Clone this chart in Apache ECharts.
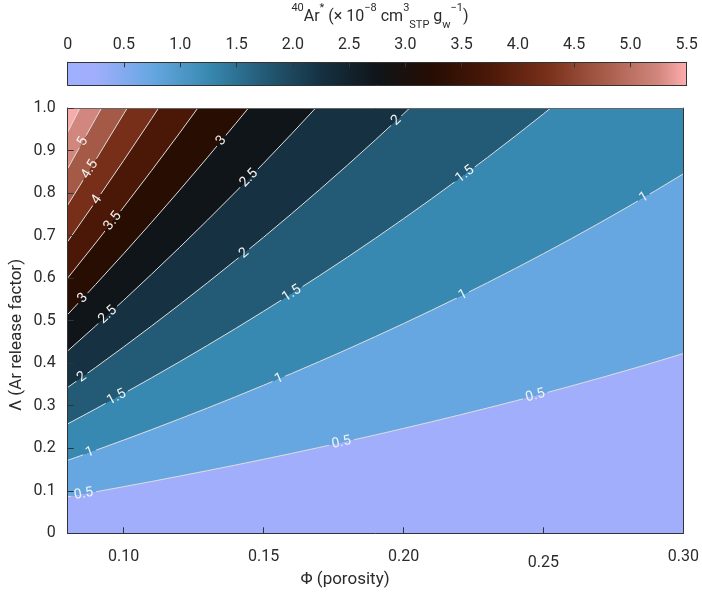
<!DOCTYPE html>
<html><head><meta charset="utf-8">
<script src="https://cdn.jsdelivr.net/npm/echarts@6/dist/echarts.min.js"></script>
<style>html,body{margin:0;padding:0;background:#fff}#c{width:702px;height:603px}</style>
</head><body><div id="c"></div><script>
// ---- data ----
const levels = [0.5, 1, 1.5, 2, 2.5, 3, 3.5, 4, 4.5, 5, 5.5];
// contour lines: [porosity, release factor]
const c05 = [[0.08,0.0858],[0.09,0.0975],[0.10,0.1096],[0.11,0.1219],[0.12,0.1345],[0.13,0.1474],[0.14,0.1605],[0.15,0.1740],[0.16,0.1878],[0.17,0.2020],[0.18,0.2165],[0.19,0.2313],[0.20,0.2466],[0.21,0.2622],[0.22,0.2782],[0.23,0.2946],[0.24,0.3114],[0.25,0.3287],[0.26,0.3465],[0.27,0.3648],[0.28,0.3835],[0.29,0.4028],[0.30,0.4227]];
const c10 = [[0.08,0.1715],[0.09,0.1951],[0.10,0.2192],[0.11,0.2438],[0.12,0.2690],[0.13,0.2947],[0.14,0.3211],[0.15,0.3481],[0.16,0.3757],[0.17,0.4040],[0.18,0.4330],[0.19,0.4627],[0.20,0.4931],[0.21,0.5243],[0.22,0.5563],[0.23,0.5892],[0.24,0.6229],[0.25,0.6575],[0.26,0.6930],[0.27,0.7295],[0.28,0.7670],[0.29,0.8056],[0.30,0.8453]];
const c15 = [[0.08,0.2573],[0.09,0.2926],[0.10,0.3287],[0.11,0.3657],[0.12,0.4034],[0.13,0.4421],[0.14,0.4816],[0.15,0.5221],[0.16,0.5635],[0.17,0.6060],[0.18,0.6494],[0.19,0.6940],[0.20,0.7397],[0.21,0.7865],[0.22,0.8345],[0.23,0.8837],[0.24,0.9343],[0.25,0.9862],[0.2526,1]];
const c20 = [[0.08,0.3430],[0.09,0.3901],[0.10,0.4383],[0.11,0.4876],[0.12,0.5379],[0.13,0.5895],[0.14,0.6422],[0.15,0.6961],[0.16,0.7514],[0.17,0.8080],[0.18,0.8659],[0.19,0.9253],[0.20,0.9862],[0.2022,1]];
const c25 = [[0.08,0.4288],[0.09,0.4877],[0.10,0.5479],[0.11,0.6095],[0.12,0.6724],[0.13,0.7368],[0.14,0.8027],[0.15,0.8702],[0.16,0.9392],[0.1686,1]];
const c30 = [[0.08,0.5145],[0.09,0.5852],[0.10,0.6575],[0.11,0.7313],[0.12,0.8069],[0.13,0.8842],[0.14,0.9633],[0.1446,1]];
const c35 = [[0.08,0.6003],[0.09,0.6827],[0.10,0.7670],[0.11,0.8532],[0.12,0.9414],[0.1265,1]];
const c40 = [[0.08,0.6860],[0.09,0.7803],[0.10,0.8766],[0.11,0.9751],[0.1125,1]];
const c45 = [[0.08,0.7718],[0.09,0.8778],[0.10,0.9862],[0.1013,1]];
const c50 = [[0.08,0.8576],[0.09,0.9754],[0.0921,1]];
const c55 = [[0.08,0.9433],[0.0844,1]];
const contours = [c05, c10, c15, c20, c25, c30, c35, c40, c45, c50, c55];
// inline contour labels: [porosity, level]
const contourLabels = [
  [0.0857,0.5],[0.1778,0.5],[0.2471,0.5],
  [0.0879,1],[0.1555,1],[0.2212,1],[0.2859,1],
  [0.0975,1.5],[0.1601,1.5],[0.2219,1.5],
  [0.0851,2],[0.1430,2],[0.1974,2],
  [0.0943,2.5],[0.1448,2.5],
  [0.0854,3],[0.1349,3],
  [0.0961,3.5],[0.0904,4],[0.0879,4.5],[0.0854,5]
];
const xTicks = [0.10, 0.15, 0.20, 0.25, 0.30];
const colorbarTicks = [0, 0.5, 1, 1.5, 2, 2.5, 3, 3.5, 4, 4.5, 5, 5.5];

// ---- styles ----
const FONT = 'Roboto, "Liberation Sans", sans-serif';
const TXT = '#2b2b2b';
const bandColors = ['#a0aefc','#66a7e1','#3889b2','#235a75','#153142','#0f1519',
                    '#270d02','#4b1808','#782f19','#a55a47','#d2877e','#f7abaa'];
const LABEL_FONT = '14px ' + FONT;

const chart = echarts.init(document.getElementById('c'), null, {renderer: 'canvas'});
const ctx = document.createElement('canvas').getContext('2d');
ctx.font = LABEL_FONT;

const fmtLevel = v => String(v);

const areaSeries = [];
for (let i = levels.length - 1; i >= 0; i--) {
  const pts = contours[i].slice();
  const last = pts[pts.length - 1];
  if (last[0] < 0.30) pts.push([0.30, 1]);
  areaSeries.push({
    type: 'line', xAxisIndex: 0, yAxisIndex: 0, data: pts, symbol: 'none', silent: true,
    lineStyle: {width: 0, opacity: 0}, areaStyle: {color: bandColors[i], opacity: 1, origin: 'start'},
    z: 1, animation: false
  });
}
const lineSeries = contours.map(pts => ({
  type: 'line', xAxisIndex: 0, yAxisIndex: 0, data: pts, symbol: 'none', silent: true,
  lineStyle: {color: '#dedede', width: 1}, z: 3, animation: false
}));

const labelSeries = {
  type: 'custom', xAxisIndex: 0, yAxisIndex: 0, z: 4, silent: true, animation: false,
  data: contourLabels,
  encode: {x: 0, y: 1},
  renderItem: function (params, api) {
    const phi = api.value(0), level = api.value(1);
    const li = levels.indexOf(level);
    const pts = contours[li];
    let i = 0;
    while (i < pts.length - 2 && pts[i + 1][0] < phi) i++;
    const a = pts[i], b = pts[i + 1];
    const t = (phi - a[0]) / (b[0] - a[0]);
    const lam = a[1] + t * (b[1] - a[1]);
    const c = api.coord([phi, lam]);
    const pa = api.coord(a), pb = api.coord(b);
    const ang = Math.atan2(pb[1] - pa[1], pb[0] - pa[0]);
    const text = fmtLevel(level);
    const w = ctx.measureText(text).width + 6;
    const h = 4;
    const upper = bandColors[li + 1], lower = bandColors[li];
    return {
      type: 'group', x: c[0], y: c[1], rotation: -ang,
      children: [
        {type: 'rect', shape: {x: -w / 2, y: -h / 2, width: w, height: h},
         style: {fill: new echarts.graphic.LinearGradient(0, 0, 0, 1, [
           {offset: 0, color: upper}, {offset: 0.5, color: upper},
           {offset: 0.5, color: lower}, {offset: 1, color: lower}])}},
        {type: 'text', x: 0, y: 0, style: {text: text, align: 'center', verticalAlign: 'middle',
          fill: '#f2f2f2', font: LABEL_FONT}}
      ]
    };
  }
};

const stops = [{offset: 0, color: '#9eb0ff'}];
for (let k = 0; k < 11; k++) stops.push({offset: (2 * k + 1) / 22, color: bandColors[k]});
stops.push({offset: 1, color: '#ffadad'});

const colorbarSeries = {
  type: 'line', xAxisIndex: 2, yAxisIndex: 2, data: [[colorbarTicks[0], 1], [colorbarTicks[colorbarTicks.length - 1], 1]],
  symbol: 'none', silent: true, lineStyle: {width: 0, opacity: 0}, z: 1, animation: false,
  areaStyle: {opacity: 1, origin: 'start', color: new echarts.graphic.LinearGradient(0, 0, 1, 0, stops)}
};

const lineAx = {show: true, onZero: false, lineStyle: {color: '#333', width: 1}};
const hiddenAx = (extra) => Object.assign({
  type: 'value', axisLine: lineAx, axisTick: {show: false}, axisLabel: {show: false},
  splitLine: {show: false}, z: 10
}, extra);

const option = {
  animation: false,
  backgroundColor: '#fff',
  grid: [
    {left: 67.7, top: 108, width: 618, height: 425.3, show: true, borderWidth: 0, backgroundColor: bandColors[11]},
    {left: 67.7, top: 62.3, width: 619, height: 22.7, show: false}
  ],
  xAxis: [
    {type: 'value', gridIndex: 0, min: 0.08, max: 0.30, position: 'bottom', z: 10,
     axisLine: lineAx, splitLine: {show: false},
     axisTick: {show: true, inside: true, length: 6, customValues: xTicks, lineStyle: {color: '#333'}},
     axisLabel: {customValues: xTicks, margin: 16, fontSize: 16, color: TXT, fontFamily: FONT,
       formatter: v => Math.abs(v - 0.25) < 1e-9 ? '{d|0.25}' : v.toFixed(2),
       rich: {d: {fontSize: 16, color: TXT, fontFamily: FONT, padding: [6, 0, 0, 0]}}}},
    hiddenAx({gridIndex: 0, min: 0.08, max: 0.30, position: 'top', axisLine: {show: true, onZero: false, lineStyle: {color: '#666', width: 1}}}),
    {type: 'value', gridIndex: 1, min: 0, max: 5.5, interval: 0.5, position: 'top', z: 10,
     axisLine: lineAx, splitLine: {show: false},
     axisTick: {show: true, inside: true, length: 5, lineStyle: {color: '#333'}},
     axisLabel: {margin: 9, fontSize: 16, color: TXT, fontFamily: FONT,
       formatter: v => v === 0 ? '0' : v.toFixed(1)}},
    hiddenAx({gridIndex: 1, min: 0, max: 5.5, position: 'bottom'})
  ],
  yAxis: [
    {type: 'value', gridIndex: 0, min: 0, max: 1, interval: 0.1, position: 'left', z: 10,
     axisLine: lineAx, splitLine: {show: false},
     axisTick: {show: true, inside: true, length: 6, lineStyle: {color: '#333'}},
     axisLabel: {margin: 12, fontSize: 16, color: TXT, fontFamily: FONT, padding: [5, 0, 0, 0],
       formatter: v => v === 0 ? '0' : v.toFixed(1)}},
    hiddenAx({gridIndex: 0, min: 0, max: 1, position: 'right'}),
    hiddenAx({gridIndex: 1, min: 0, max: 1, position: 'left'}),
    hiddenAx({gridIndex: 1, min: 0, max: 1, position: 'right'})
  ],
  graphic: [
    {type: 'text', x: 380, y: 3, z: 20, style: {
      text: '{sup|40}{n|Ar}{sup|*}{n| (× 10}{sup|−8}{n| cm}{sup|3}{sub|STP}{n| g}{sub|w}{sup|−1}{n|)}',
      align: 'center', verticalAlign: 'top', fill: TXT, font: '16px ' + FONT,
      rich: {
        n: {fontSize: 16, lineHeight: 28, fontFamily: FONT, fill: TXT},
        sup: {fontSize: 11, lineHeight: 13, verticalAlign: 'top', fontFamily: FONT, fill: TXT},
        sub: {fontSize: 11, lineHeight: 13, verticalAlign: 'bottom', fontFamily: FONT, fill: TXT}
      }}},
    {type: 'text', x: 345, y: 580, z: 20, style: {text: 'Φ (porosity)', align: 'center', verticalAlign: 'middle',
      fill: TXT, font: '17px ' + FONT}},
    {type: 'text', x: 17, y: 335, rotation: Math.PI / 2, z: 20, style: {text: 'Λ (Ar release factor)',
      align: 'center', verticalAlign: 'middle', fill: TXT, font: '17px ' + FONT}}
  ],
  series: [].concat(areaSeries, lineSeries, [labelSeries, colorbarSeries])
};
chart.setOption(option);
</script></body></html>
